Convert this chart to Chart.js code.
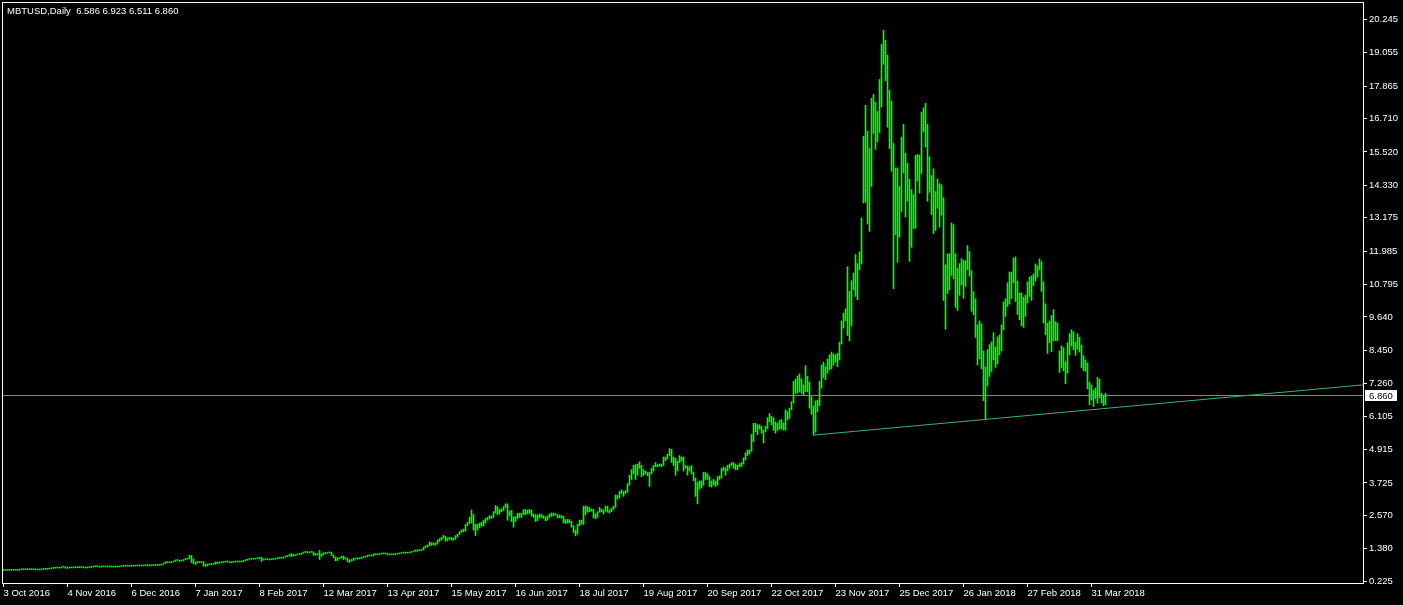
<!DOCTYPE html>
<html>
<head>
<meta charset="utf-8">
<title>MBTUSD Daily</title>
<script src="https://cdn.jsdelivr.net/npm/chart.js@4.4.1/dist/chart.umd.min.js"></script>
<style>
  html, body { margin: 0; padding: 0; background: #000; }
  #wrap { width: 1403px; height: 605px; }
</style>
</head>
<body>
<div id="wrap"><canvas id="chart" width="1403" height="605"></canvas></div>
<script>
/**************************************************************
 * Data: one daily bar per calendar day, starting 3 Oct 2016
 **************************************************************/
const symbolName = "MBTUSD,Daily";

// daily lows, one line per month
const barLow = [
  // Oct 2016
  0.607,0.606,0.607,0.609,0.610,0.615,0.613,0.614,0.615,0.632,0.634,0.634,0.635,0.636,0.635,0.636,0.626,0.626,0.627,0.630,0.650,0.648,0.650,0.655,0.672,0.682,0.687,0.695,0.690,
  // Nov 2016
  0.695,0.725,0.685,0.685,0.695,0.700,0.700,0.702,0.705,0.708,0.710,0.700,0.690,0.700,0.710,0.712,0.730,0.735,0.745,0.725,0.728,0.735,0.735,0.730,0.733,0.728,0.725,0.730,0.730,0.732,
  // Dec 2016
  0.742,0.755,0.760,0.762,0.750,0.755,0.760,0.765,0.768,0.770,0.765,0.768,0.775,0.774,0.772,0.775,0.782,0.785,0.785,0.788,0.800,0.830,0.860,0.880,0.880,0.890,0.910,0.930,0.965,0.935,0.945,
  // Jan 2017
  0.960,0.990,1.010,1.030,0.890,0.850,0.820,0.880,0.880,0.890,0.760,0.750,0.780,0.810,0.815,0.820,0.830,0.850,0.870,0.880,0.885,0.900,0.915,0.880,0.885,0.895,0.910,0.912,0.910,0.912,0.920,
  // Feb 2017
  0.960,0.975,1.000,1.010,1.005,1.010,1.025,1.030,0.930,0.980,0.995,0.990,0.980,0.995,1.000,1.010,1.030,1.045,1.040,1.045,1.080,1.100,1.120,1.100,1.120,1.130,1.165,1.175,
  // Mar 2017
  1.180,1.220,1.250,1.230,1.240,1.250,1.150,1.150,1.170,1.000,1.110,1.170,1.210,1.215,1.235,1.140,1.060,0.950,0.960,1.020,1.050,1.000,1.020,0.920,0.890,0.950,0.960,1.020,1.010,1.020,1.030,
  // Apr 2017
  1.070,1.080,1.095,1.130,1.120,1.130,1.170,1.170,1.175,1.190,1.200,1.200,1.160,1.160,1.170,1.170,1.175,1.185,1.200,1.210,1.230,1.220,1.225,1.230,1.245,1.270,1.290,1.290,1.310,1.320,
  // May 2017
  1.340,1.410,1.450,1.480,1.500,1.520,1.500,1.550,1.640,1.690,1.760,1.650,1.660,1.720,1.690,1.680,1.720,1.800,1.880,1.960,1.990,2.010,2.200,2.280,2.300,2.050,1.850,2.050,2.130,2.180,2.200,
  // Jun 2017
  2.300,2.400,2.450,2.460,2.500,2.650,2.600,2.620,2.700,2.740,2.850,2.400,2.550,2.350,2.150,2.350,2.450,2.500,2.500,2.600,2.600,2.620,2.640,2.540,2.500,2.350,2.380,2.480,2.500,2.460,
  // Jul 2017
  2.380,2.400,2.500,2.540,2.550,2.580,2.480,2.480,2.470,2.300,2.280,2.300,2.310,2.150,1.960,1.840,1.900,2.200,2.250,2.250,2.600,2.680,2.700,2.720,2.480,2.450,2.500,2.680,2.700,2.620,2.720,
  // Aug 2017
  2.680,2.650,2.700,2.780,2.860,3.150,3.200,3.350,3.250,3.350,3.400,3.650,3.850,4.050,3.850,4.000,4.250,3.950,4.000,4.050,3.980,3.600,4.050,4.150,4.300,4.300,4.320,4.300,4.350,4.520,4.580,
  // Sep 2017
  4.700,4.450,4.350,4.000,4.150,4.450,4.500,4.150,4.250,4.000,4.150,4.050,3.800,3.250,2.980,3.500,3.550,3.650,3.850,3.850,3.600,3.580,3.650,3.600,3.650,3.850,3.900,4.150,4.000,4.150,
  // Oct 2017
  4.250,4.350,4.250,4.200,4.200,4.300,4.300,4.400,4.550,4.700,4.750,4.850,5.200,5.550,5.450,5.650,5.500,5.150,5.550,5.650,5.900,5.800,5.600,5.500,5.600,5.650,5.640,5.610,5.610,5.970,6.030,
  // Nov 2017
  6.33,6.57,6.92,6.92,6.98,6.92,6.86,6.98,6.98,6.39,6.17,5.43,5.53,6.27,6.48,7.10,7.48,7.40,7.64,7.76,7.79,7.93,8.03,7.87,8.11,8.67,9.24,9.50,8.98,8.79,
  // Dec 2017
  9.33,10.61,10.37,10.25,11.32,11.53,13.70,13.73,12.95,12.69,14.29,16.18,15.61,15.88,16.21,17.12,18.64,18.05,16.40,15.64,14.83,10.65,12.57,11.59,12.48,13.40,14.77,13.20,13.76,11.62,12.12,
  // Jan 2018
  12.79,12.79,14.48,14.05,14.75,16.23,15.69,13.76,14.08,13.29,12.61,12.72,13.51,12.84,13.26,10.23,9.20,10.48,10.61,11.12,11.00,9.98,9.87,10.41,10.79,10.30,10.73,11.32,11.09,9.84,9.72,
  // Feb 2018
  8.91,7.93,8.15,7.79,6.66,5.99,7.18,7.52,7.70,8.11,7.84,7.97,8.29,8.44,9.18,9.66,10.01,10.10,10.30,10.85,10.19,9.73,9.54,9.33,9.27,9.66,10.14,10.37,
  // Mar 2018
  10.23,10.76,10.93,11.06,11.31,10.55,9.42,9.00,8.34,8.73,8.41,8.79,8.80,8.79,7.66,7.84,7.72,7.26,7.63,8.29,8.60,8.47,8.27,8.49,8.39,7.83,7.73,7.70,7.08,6.51,6.68,
  // Apr 2018
  6.45,6.73,6.57,6.75,6.57,6.48,6.511
];

// daily highs, same layout
const barHigh = [
  // Oct 2016
  0.614,0.612,0.614,0.614,0.620,0.620,0.619,0.619,0.642,0.641,0.639,0.642,0.641,0.643,0.642,0.642,0.640,0.633,0.634,0.660,0.660,0.656,0.662,0.680,0.688,0.690,0.720,0.712,0.705,
  // Nov 2016
  0.740,0.742,0.745,0.705,0.706,0.714,0.712,0.712,0.740,0.725,0.718,0.716,0.708,0.712,0.718,0.745,0.750,0.752,0.752,0.752,0.740,0.752,0.750,0.745,0.742,0.742,0.738,0.738,0.738,0.745,
  // Dec 2016
  0.760,0.778,0.775,0.770,0.768,0.768,0.770,0.775,0.775,0.778,0.775,0.780,0.785,0.782,0.780,0.785,0.792,0.795,0.795,0.805,0.835,0.870,0.925,0.920,0.905,0.915,0.945,0.985,0.985,0.970,0.970,
  // Jan 2017
  1.000,1.035,1.040,1.150,1.140,1.010,0.910,0.930,0.920,0.915,0.920,0.830,0.840,0.840,0.830,0.835,0.910,0.910,0.905,0.900,0.925,0.935,0.925,0.922,0.900,0.920,0.922,0.922,0.920,0.925,0.970,
  // Feb 2017
  0.990,1.010,1.030,1.045,1.030,1.030,1.055,1.070,1.080,1.010,1.015,1.005,1.005,1.015,1.015,1.040,1.055,1.065,1.060,1.090,1.125,1.130,1.180,1.210,1.180,1.170,1.195,1.210,
  // Mar 2017
  1.230,1.265,1.290,1.275,1.270,1.275,1.270,1.215,1.210,1.320,1.200,1.235,1.245,1.250,1.260,1.260,1.160,1.090,1.060,1.060,1.120,1.125,1.060,1.050,0.985,1.000,1.045,1.055,1.055,1.050,1.085,
  // Apr 2017
  1.100,1.110,1.150,1.160,1.140,1.200,1.200,1.190,1.210,1.215,1.230,1.225,1.215,1.190,1.190,1.190,1.205,1.220,1.220,1.245,1.260,1.250,1.250,1.255,1.280,1.300,1.345,1.345,1.345,1.355,
  // May 2017
  1.440,1.480,1.520,1.620,1.600,1.590,1.580,1.690,1.740,1.790,1.860,1.820,1.760,1.790,1.780,1.760,1.850,1.900,1.990,2.050,2.080,2.250,2.320,2.500,2.760,2.600,2.250,2.250,2.300,2.320,2.400,
  // Jun 2017
  2.460,2.500,2.560,2.540,2.700,2.920,2.880,2.780,2.800,2.880,2.980,2.980,2.720,2.750,2.520,2.530,2.650,2.650,2.650,2.780,2.780,2.760,2.780,2.760,2.620,2.600,2.580,2.620,2.600,2.560,
  // Jul 2017
  2.520,2.550,2.620,2.660,2.640,2.630,2.600,2.580,2.560,2.540,2.420,2.430,2.420,2.360,2.200,2.050,2.250,2.400,2.400,2.900,2.900,2.880,2.850,2.790,2.780,2.620,2.700,2.850,2.800,2.760,2.900,
  // Aug 2017
  2.900,2.760,2.820,2.900,3.300,3.280,3.420,3.480,3.420,3.450,3.700,4.000,4.200,4.350,4.380,4.400,4.480,4.350,4.200,4.150,4.100,4.100,4.250,4.350,4.450,4.380,4.400,4.400,4.650,4.650,4.750,
  // Sep 2017
  4.950,4.920,4.650,4.600,4.500,4.700,4.650,4.650,4.350,4.330,4.300,4.350,4.100,3.900,3.750,3.800,3.800,4.100,4.100,4.050,3.950,3.800,3.850,3.800,3.950,3.980,4.250,4.300,4.250,4.350,
  // Oct 2017
  4.400,4.450,4.450,4.400,4.350,4.420,4.450,4.620,4.800,4.900,4.900,5.450,5.850,5.850,5.800,5.800,5.750,5.600,5.750,6.050,6.200,6.100,6.050,5.900,5.850,5.950,5.990,5.870,6.330,6.270,6.390,
  // Nov 2017
  6.62,7.34,7.43,7.54,7.61,7.43,7.22,7.90,7.52,7.32,6.80,6.47,6.65,6.68,7.34,7.93,8.03,7.87,8.14,8.29,8.39,8.32,8.29,8.35,8.74,9.50,9.78,9.93,11.43,10.55,
  // Dec 2017
  10.93,11.21,11.86,11.54,11.96,13.17,16.08,17.18,16.26,15.64,17.43,17.57,17.29,16.96,18.10,19.35,19.85,19.50,18.96,17.72,17.33,15.82,14.95,14.95,14.29,16.05,16.50,15.47,15.11,14.54,14.18,
  // Jan 2018
  14.00,15.40,15.43,15.40,16.94,17.09,17.25,16.50,15.35,14.68,14.92,14.11,14.56,14.39,14.35,13.89,11.50,11.89,11.89,12.99,12.93,11.89,11.38,11.54,11.72,11.65,11.65,12.18,11.97,11.29,10.54,
  // Feb 2018
  10.29,9.36,9.50,9.40,8.43,7.86,8.47,8.65,8.75,9.08,8.57,8.93,9.00,9.36,10.18,10.29,10.86,11.24,11.24,11.74,11.78,10.92,10.49,10.49,10.35,10.42,10.89,11.06,
  // Mar 2018
  11.10,11.17,11.53,11.46,11.71,11.61,10.89,10.11,9.42,9.50,9.69,9.90,9.47,9.43,8.43,8.61,8.54,8.05,8.72,9.04,9.18,9.11,8.75,9.04,8.92,8.64,8.26,8.11,7.99,7.32,7.22,
  // Apr 2018
  7.03,7.10,7.49,7.42,6.92,6.83,6.923
];

// last bar: open, high, low, close
const lastOHLC = [6.586, 6.923, 6.511, 6.860];

// time axis: bar index of each label and its text
const dateTickBars = [0, 32, 64, 96, 128, 160, 192, 224, 256, 288, 320, 352, 384, 416, 448, 480, 512, 544];
const dateLabels = [
  "3 Oct 2016", "4 Nov 2016", "6 Dec 2016", "7 Jan 2017", "8 Feb 2017", "12 Mar 2017",
  "13 Apr 2017", "15 May 2017", "16 Jun 2017", "18 Jul 2017", "19 Aug 2017", "20 Sep 2017",
  "22 Oct 2017", "23 Nov 2017", "25 Dec 2017", "26 Jan 2018", "27 Feb 2018", "31 Mar 2018"
];

// price axis labels
const priceTicks = [20.245, 19.055, 17.865, 16.710, 15.520, 14.330, 13.175, 11.985, 10.795,
  9.640, 8.450, 7.260, 6.105, 4.915, 3.725, 2.570, 1.380, 0.225];

// trendline through two swing lows (bar index, price)
const trendBars = [405, 491];
const trendPrices = [5.43, 5.99];

/**************************************************************
 * Chart
 **************************************************************/
const X_MIN = -0.75, X_MAX = 679.75;   // 2 px per bar
const Y_MIN = 0.161, Y_MAX = 20.861;
const FONT = { family: "'Liberation Sans', Arial, sans-serif", size: 9.5 };

const bars = barLow.map((lo, i) => ({ x: i, y: [lo, barHigh[i]] }));

const slope = (trendPrices[1] - trendPrices[0]) / (trendBars[1] - trendBars[0]);
const trendLine = [
  { x: trendBars[0], y: trendPrices[0] },
  { x: X_MAX, y: trendPrices[0] + slope * (X_MAX - trendBars[0]) }
];

const mtOverlay = {
  id: "mtOverlay",
  afterDatasetsDraw(chart) {
    const { ctx, chartArea: a, scales } = chart;
    const yc = Math.round(scales.y.getPixelForValue(lastOHLC[3])) + 0.5;
    ctx.save();
    // bid line
    ctx.strokeStyle = "#778899";
    ctx.lineWidth = 1;
    ctx.beginPath();
    ctx.moveTo(a.left, yc);
    ctx.lineTo(a.right, yc);
    ctx.stroke();
    ctx.restore();
  },
  afterDraw(chart) {
    const { ctx, chartArea: a, scales } = chart;
    ctx.save();
    // frame
    ctx.strokeStyle = "#ffffff";
    ctx.lineWidth = 1;
    ctx.strokeRect(a.left + 0.5, a.top + 0.5, a.right - a.left, a.bottom - a.top);

    // title
    ctx.font = `${FONT.size}px ${FONT.family}`;
    ctx.fillStyle = "#ffffff";
    ctx.textBaseline = "alphabetic";
    ctx.textAlign = "left";
    const ohlcText = lastOHLC.map(v => v.toFixed(3)).join(" ");
    ctx.fillText(`${symbolName}  ${ohlcText}`, 7, 14);

    // close price tag on the price axis
    const yc = Math.round(scales.y.getPixelForValue(lastOHLC[3]));
    ctx.fillStyle = "#ffffff";
    ctx.fillRect(a.right + 2, yc - 5, 32, 11);
    ctx.fillStyle = "#000000";
    ctx.textBaseline = "middle";
    ctx.fillText(lastOHLC[3].toFixed(3), a.right + 6, yc + 1);
    ctx.restore();
  }
};

new Chart(document.getElementById("chart"), {
  type: "bar",
  data: {
    datasets: [
      {
        type: "line",
        data: trendLine,
        borderColor: "#3cb371",
        borderWidth: 1,
        pointRadius: 0,
        fill: false,
        order: 0
      },
      {
        type: "bar",
        data: bars,
        backgroundColor: "#00ff00",
        borderWidth: 0,
        barThickness: 1,
        minBarLength: 1,
        grouped: false,
        order: 1
      }
    ]
  },
  plugins: [mtOverlay],
  options: {
    responsive: false,
    animation: false,
    events: [],
    layout: { padding: { left: 2, top: 2, right: 0, bottom: 0 } },
    plugins: { legend: { display: false }, tooltip: { enabled: false } },
    scales: {
      x: {
        type: "linear",
        position: "bottom",
        min: X_MIN,
        max: X_MAX,
        offset: false,
        afterBuildTicks: s => { s.ticks = dateTickBars.map(v => ({ value: v })); },
        afterFit: s => { s.height = 22; s.paddingLeft = 0; s.paddingRight = 0; },
        ticks: {
          autoSkip: false,
          maxRotation: 0,
          align: "start",
          color: "#ffffff",
          font: FONT,
          padding: 1,
          callback: (v, idx) => dateLabels[idx]
        },
        grid: { drawOnChartArea: false, tickLength: 4, color: "#ffffff", offset: false },
        border: { display: false }
      },
      y: {
        type: "linear",
        position: "right",
        min: Y_MIN,
        max: Y_MAX,
        afterBuildTicks: s => { s.ticks = priceTicks.map(v => ({ value: v })); },
        afterFit: s => { s.width = 40; s.paddingTop = 0; s.paddingBottom = 0; },
        ticks: {
          color: "#ffffff",
          font: FONT,
          padding: 2,
          callback: v => v.toFixed(3)
        },
        grid: { drawOnChartArea: false, tickLength: 4, color: "#ffffff" },
        border: { display: false }
      }
    }
  }
});
</script>
</body>
</html>
